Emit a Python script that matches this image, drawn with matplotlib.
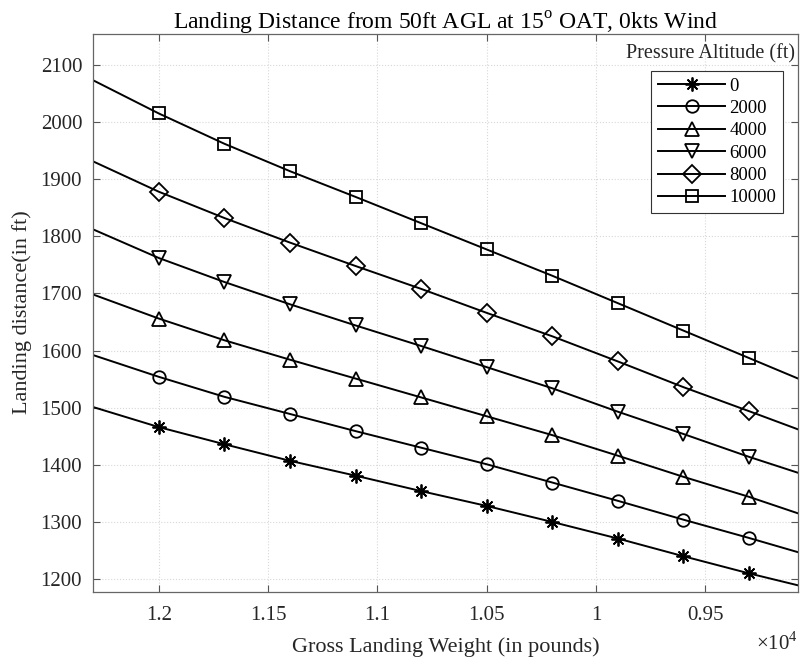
import matplotlib
matplotlib.use("Agg")
import matplotlib.pyplot as plt
from matplotlib.ticker import FuncFormatter

plt.rcParams['font.family'] = 'Liberation Serif'
plt.rcParams['mathtext.fontset'] = 'custom'
plt.rcParams['mathtext.rm'] = 'Liberation Serif'

# Gewicht (lb): Rand links, Marker 12000 ... 9300, Rand rechts
weight = [12300, 12000, 11700, 11400, 11100, 10800, 10500, 10200, 9900, 9600, 9300, 9075]

# Landestrecke (ft) je Druckhoehe
alt_0 = [1501, 1466, 1436, 1407, 1381, 1354, 1328, 1300, 1271, 1240, 1210, 1189]
alt_2000 = [1592, 1554, 1519, 1489, 1459, 1430, 1401, 1369, 1337, 1304, 1272, 1247]
alt_4000 = [1698, 1656, 1618, 1584, 1551, 1518, 1485, 1452, 1416, 1379, 1344, 1315]
alt_6000 = [1812, 1762, 1720, 1681, 1644, 1608, 1571, 1534, 1493, 1454, 1414, 1386]
alt_8000 = [1931, 1878, 1832, 1789, 1748, 1708, 1666, 1625, 1581, 1536, 1494, 1462]
alt_10000 = [2073, 2015, 1962, 1914, 1869, 1823, 1777, 1731, 1683, 1635, 1587, 1551]

names = ['0', '2000', '4000', '6000', '8000', '10000']
curves = [alt_0, alt_2000, alt_4000, alt_6000, alt_8000, alt_10000]
markers = [(8, 2, 0), 'o', '^', 'v', 'D', 's']
msizes = [10, 9, 10, 10, 9, 8]

fig = plt.figure(figsize=(8.0, 6.57), dpi=100)
ax = fig.add_axes([0.1166, 0.0995, 0.881, 0.8495])

for name, dist, m, ms in zip(names, curves, markers, msizes):
    ax.plot(weight, dist, color='black', lw=1.4, marker=m, markersize=ms,
            markerfacecolor='none', markeredgecolor='black', markeredgewidth=1.3,
            markevery=slice(1, -1), label=name)

# x-Achse absteigend
ax.set_xlim(12300, 9075)
ax.set_ylim(1178, 2155)
ax.set_xticks([12000, 11500, 11000, 10500, 10000, 9500])
ax.set_yticks(range(1200, 2101, 100))
ax.xaxis.set_major_formatter(FuncFormatter(lambda v, p: f"{v / 1e4:g}"))

ax.grid(True, linestyle=':', color='#d8d8d8', linewidth=0.8)
ax.tick_params(direction='in', top=True, right=True, length=5, width=0.8,
               color='#555555', labelsize=15, labelcolor='#262626')
ax.tick_params(axis='x', pad=10)
ax.tick_params(axis='y', pad=8)
for sp in ax.spines.values():
    sp.set_color('#666666')
    sp.set_linewidth(0.9)

ax.set_title('Landing Distance from 50ft AGL at 15$^{\\rm o}$ OAT, 0kts Wind',
             fontsize=17, pad=3)
ax.set_xlabel('Gross Landing Weight (in pounds)', fontsize=16, color='#262626', labelpad=9)
ax.set_ylabel('Landing distance(in ft)', fontsize=16, color='#262626', labelpad=6)
ax.text(1.0, -0.105, '$\\times10^{4}$', transform=ax.transAxes, ha='right', va='baseline',
        fontsize=15, color='#262626')

leg = ax.legend(loc='upper right', bbox_to_anchor=(0.978, 0.933), borderaxespad=0,
                fontsize=13.5, handlelength=3.6, handletextpad=0.2, labelspacing=0.28,
                fancybox=False, framealpha=1, edgecolor='#333333', borderpad=0.35)
leg.get_frame().set_linewidth(0.8)
ax.text(0.996, 0.956, 'Pressure Altitude (ft)', transform=ax.transAxes, ha='right',
        va='baseline', fontsize=14.5, color='#262626')

plt.savefig("out.png", format="png")
